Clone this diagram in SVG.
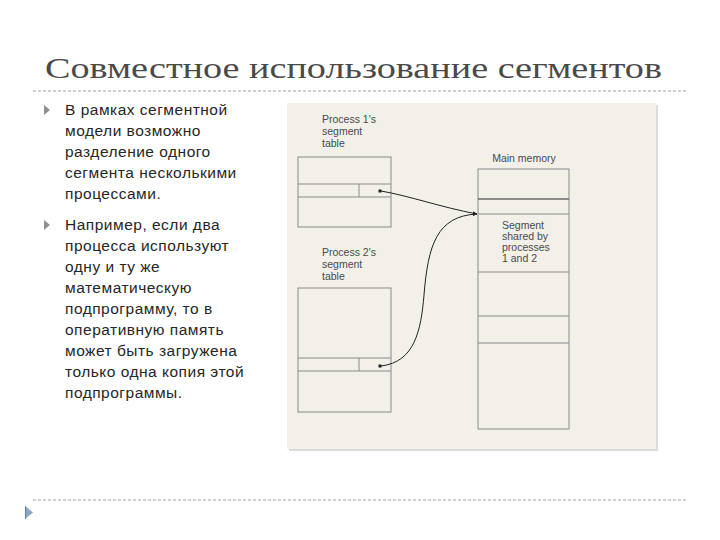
<svg xmlns="http://www.w3.org/2000/svg" width="720" height="540" viewBox="0 0 720 540">
<defs>
<style>
.title{font-family:"Liberation Serif","DejaVu Serif",serif;font-size:30px;fill:#4a4a4a}
.body{font-family:"Liberation Sans",Arial,sans-serif;font-size:15.5px;letter-spacing:0.5px;fill:#262626}
.lbl{font-family:"Liberation Sans",Arial,sans-serif;font-size:10.5px;fill:#4a4a4a}
.box{fill:none;stroke:#8a8a8a;stroke-width:1}
.ln{stroke:#8a8a8a;stroke-width:1}
.conn{fill:none;stroke:#222;stroke-width:1}
.dash{stroke:#a0a0a0;stroke-width:1;stroke-dasharray:3 2}
</style>
<marker id="ah" viewBox="0 0 6 6" refX="6" refY="3" markerWidth="4" markerHeight="4" orient="auto">
<path d="M0,0 L6,3 L0,6 z" fill="#222"/>
</marker>
</defs>
<rect width="720" height="540" fill="#fff"/>
<text class="title" x="45" y="78" textLength="617" lengthAdjust="spacingAndGlyphs">Совместное использование сегментов</text>
<line class="dash" x1="33" y1="91" x2="688" y2="91"/>
<line class="dash" x1="33" y1="500" x2="688" y2="500"/>
<path d="M25,506 L33,512.5 L25,519 z" fill="#8aa6c8"/>
<line x1="25.5" y1="506" x2="25.5" y2="519" stroke="#6a7f99" stroke-width="1"/>
<g id="bullets">
<path d="M44,105 L50,110 L44,115 z" fill="#909090"/>
<path d="M44,220 L50,225 L44,230 z" fill="#909090"/>
<text class="body" x="65" y="115">В рамках сегментной</text>
<text class="body" x="65" y="136">модели возможно</text>
<text class="body" x="65" y="157">разделение одного</text>
<text class="body" x="65" y="178">сегмента несколькими</text>
<text class="body" x="65" y="199">процессами.</text>
<text class="body" x="65" y="230">Например, если два</text>
<text class="body" x="65" y="251">процесса используют</text>
<text class="body" x="65" y="272">одну и ту же</text>
<text class="body" x="65" y="293">математическую</text>
<text class="body" x="65" y="314">подпрограмму, то в</text>
<text class="body" x="65" y="335">оперативную память</text>
<text class="body" x="65" y="356">может быть загружена</text>
<text class="body" x="65" y="377">только одна копия этой</text>
<text class="body" x="65" y="398">подпрограммы.</text>
</g>
<g id="panel">
<rect x="289" y="105" width="369" height="346" fill="#dcdcdc"/>
<rect x="287" y="103" width="369" height="346" fill="#f3f0ea"/>
</g>
<g id="p1table">
<text class="lbl" x="322" y="123">Process 1's</text>
<text class="lbl" x="322" y="135">segment</text>
<text class="lbl" x="322" y="147">table</text>
<rect class="box" x="298" y="157" width="93" height="70"/>
<line class="ln" x1="298" y1="184" x2="391" y2="184"/>
<line class="ln" x1="298" y1="197" x2="391" y2="197"/>
<line class="ln" x1="359" y1="184" x2="359" y2="197"/>
<rect x="378.5" y="189.5" width="3" height="3" fill="#222"/>
</g>
<g id="p2table">
<text class="lbl" x="322" y="256">Process 2's</text>
<text class="lbl" x="322" y="268">segment</text>
<text class="lbl" x="322" y="280">table</text>
<rect class="box" x="298" y="288" width="93" height="124"/>
<line class="ln" x1="298" y1="358" x2="391" y2="358"/>
<line class="ln" x1="298" y1="371" x2="391" y2="371"/>
<line class="ln" x1="359" y1="358" x2="359" y2="371"/>
<rect x="378.5" y="364.5" width="3" height="3" fill="#222"/>
</g>
<g id="memory">
<text class="lbl" x="524" y="162" text-anchor="middle">Main memory</text>
<rect class="box" x="478" y="169" width="91" height="260"/>
<line x1="478" y1="199" x2="569" y2="199" stroke="#6a6a6a" stroke-width="1.5"/>
<line class="ln" x1="478" y1="214" x2="569" y2="214"/>
<line class="ln" x1="478" y1="272" x2="569" y2="272"/>
<line class="ln" x1="478" y1="316" x2="569" y2="316"/>
<line class="ln" x1="478" y1="343" x2="569" y2="343"/>
<text class="lbl" x="502" y="229">Segment</text>
<text class="lbl" x="502" y="240">shared by</text>
<text class="lbl" x="502" y="251">processes</text>
<text class="lbl" x="502" y="262">1 and 2</text>
</g>
<g id="connectors">
<path class="conn" d="M381,191 C410,196 440,207 477,214" marker-end="url(#ah)"/>
<path class="conn" d="M381,366 C415,362 421,330 424,295 C428,245 437,216 477,214" marker-end="url(#ah)"/>
</g>
</svg>
